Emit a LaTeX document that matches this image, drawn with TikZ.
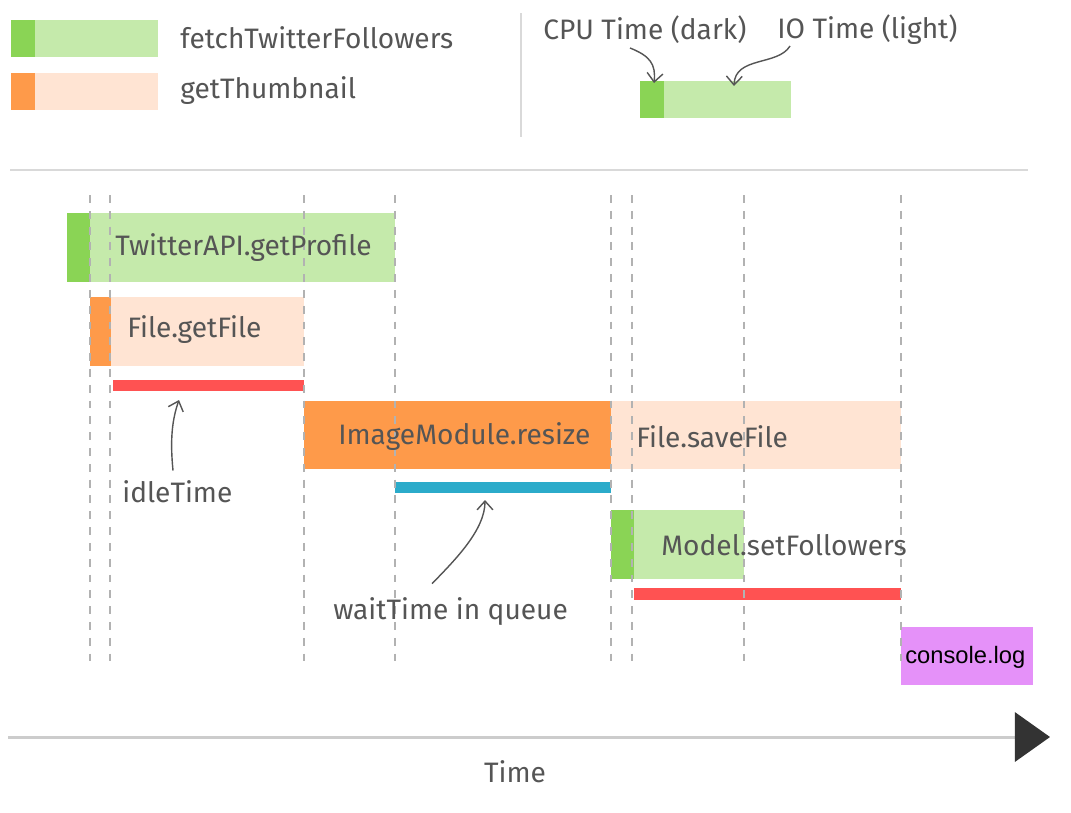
\documentclass[tikz,border=0pt]{standalone}
\usepackage{fontspec}
\setmainfont{Fira Sans}
\newfontfamily\arialfont{Liberation Sans}
\usetikzlibrary{arrows.meta}
\definecolor{cpugreen}{HTML}{8AD455}
\definecolor{iogreen}{HTML}{C5EAAB}
\definecolor{cpuorange}{HTML}{FE9A4A}
\definecolor{ioorange}{HTML}{FFE4D3}
\definecolor{idlered}{HTML}{FF5252}
\definecolor{waitblue}{HTML}{2BABCA}
\definecolor{logviolet}{HTML}{E591F9}
\definecolor{textgray}{HTML}{555555}
\definecolor{axisgray}{HTML}{CCCCCC}
\definecolor{axisdark}{HTML}{333333}
\tikzset{
  lbl/.style={text=textgray, font=\fontsize{16}{19}\selectfont, anchor=west, inner sep=0pt},
  guide/.style={black!30, dash pattern=on 4.5pt off 4.5pt, line width=0.7pt},
  hand/.style={textgray, line width=0.8pt, -{Straight Barb[length=5pt,width=9pt]}}
}
\begin{document}
\begin{tikzpicture}[x=0.02cm,y=-0.02cm]
    \useasboundingbox (0,0) rectangle (1071,812);

    % legend
    \fill[iogreen] (11,20) rectangle (158,57);
    \fill[cpugreen] (11,20) rectangle (35,57);
    \fill[ioorange] (11,73) rectangle (158,110);
    \fill[cpuorange] (11,73) rectangle (35,110);
    \node[lbl] (fetch) at (180,38) {fetchTwitterFollowers};
    \node[lbl] (thumb) at (180,91) {getThumbnail};
    \draw[black!15, line width=1pt] (521,13) -- (521,137);
    \draw[black!15, line width=1.2pt] (10,170) -- (1028,170);

    \fill[iogreen] (640,81) rectangle (791,118);
    \fill[cpugreen] (640,81) rectangle (664,118);
    \node[lbl] (cpu) at (543,30) {CPU Time (dark)};
    \node[lbl] (io) at (777,30) {IO Time (light)};
    \coordinate (cpuFrom) at (630,48);
    \coordinate (cpuTo) at (654,83);
    \coordinate (ioFrom) at (790,46);
    \coordinate (ioTo) at (734,86);
    \draw[hand] (cpuFrom) .. controls (650,56) and (656,64) .. (cpuTo);
    \draw[hand] (ioFrom) .. controls (778,66) and (735,56) .. (ioTo);

    % bars
    \fill[iogreen] (67,213) rectangle (395,282);
    \fill[cpugreen] (67,213) rectangle (90,282);
    \fill[ioorange] (90,297) rectangle (304,366);
    \fill[cpuorange] (90,297) rectangle (111,366);
    \fill[idlered] (113,380) rectangle (304,391);
    \fill[cpuorange] (304,401) rectangle (611,469);
    \fill[ioorange] (611,401) rectangle (901,469);
    \fill[waitblue] (395,482) rectangle (611,493);
    \fill[iogreen] (611,510) rectangle (744,579);
    \fill[cpugreen] (611,510) rectangle (634,579);
    \fill[idlered] (634,588) rectangle (901,600);
    \fill[logviolet] (901,627) rectangle (1033,685);

    \foreach \x in {90,110,304,395,611,632,744,901}
        \draw[guide] (\x,195) -- (\x,666);

    \node[lbl] (profile) at (115,248) {TwitterAPI.getProfile};
    \node[lbl] (getfile) at (127,330) {File.getFile};
    \node[lbl] (resize) at (338,437) {ImageModule.resize};
    \node[lbl] (savefile) at (636,437) {File.saveFile};
    \node[lbl] (setfoll) at (661,545) {Model.setFollowers};
    \node[anchor=west, inner sep=0pt, font=\arialfont\fontsize{13.5}{16}\selectfont] (log) at (905,657) {console.log};

    \node[lbl] (idle) at (122,492) {idleTime};
    \node[lbl] (wait) at (333,612) {waitTime in queue};
    \coordinate (idleTo) at (179,400);
    \coordinate (waitTo) at (485,500);
    \draw[hand] (idle.north west)++(51,-10) .. controls (170,440) and (172,420) .. (idleTo);
    \draw[hand] (wait.north west)++(99,-14) .. controls (455,560) and (485,530) .. (waitTo);

    % time axis
    \coordinate (axisStart) at (8,737);
    \coordinate (axisEnd) at (1050,737);
    \draw[axisgray, line width=1.7pt, -{Triangle[length=20pt,width=28pt,color=axisdark]}] (axisStart) -- (axisEnd);
    \node[lbl, anchor=center] (time) at (515,772) {Time};
\end{tikzpicture}
\end{document}
